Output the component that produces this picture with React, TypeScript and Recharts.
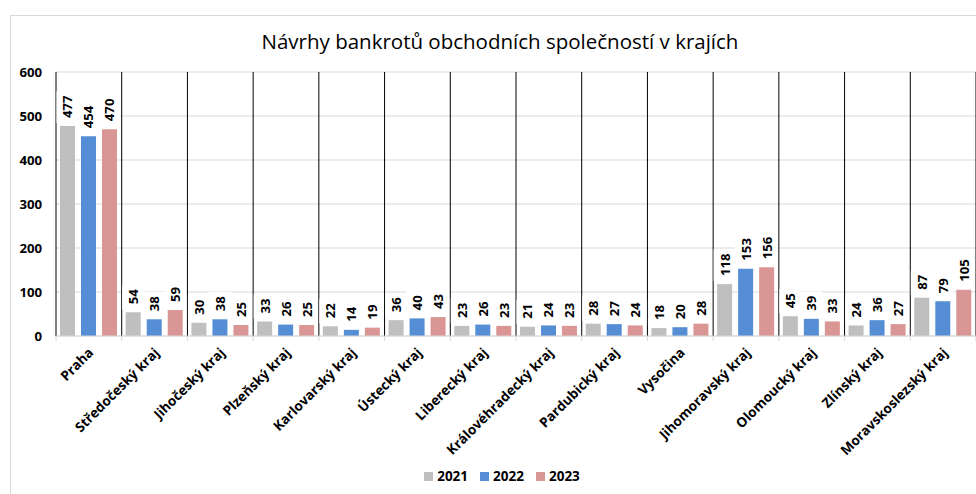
import React from "react";
import {
  BarChart,
  Bar,
  XAxis,
  YAxis,
  CartesianGrid,
  Legend,
  LabelList,
} from "recharts";

const categories = [
  "Praha",
  "Středočeský kraj",
  "Jihočeský kraj",
  "Plzeňský kraj",
  "Karlovarský kraj",
  "Ústecký kraj",
  "Liberecký kraj",
  "Královéhradecký kraj",
  "Pardubický kraj",
  "Vysočina",
  "Jihomoravský kraj",
  "Olomoucký kraj",
  "Zlínský kraj",
  "Moravskoslezský kraj",
];
const values2021 = [477, 54, 30, 33, 22, 36, 23, 21, 28, 18, 118, 45, 24, 87];
const values2022 = [454, 38, 38, 26, 14, 40, 26, 24, 27, 20, 153, 39, 36, 79];
const values2023 = [470, 59, 25, 25, 19, 43, 23, 23, 24, 28, 156, 33, 27, 105];
const yTicks = [0, 100, 200, 300, 400, 500, 600];
const seriesNames = ["2021", "2022", "2023"];
const colors = ["#bfbfbf", "#558ed5", "#d99694"];

const data = categories.map((name, i) => ({
  name,
  v2021: values2021[i],
  v2022: values2022[i],
  v2023: values2023[i],
}));

const FONT = "'Open Sans', 'DejaVu Sans', sans-serif";

const renderLabel = (props: any) => {
  const { x, y, width, value } = props;
  const cx = Number(x) + Number(width) / 2;
  const top = Number(y);
  const s = String(value);
  const len = s.length * 7.6;
  const base = top - 8;
  return (
    <g>
      <rect
        x={cx - 11}
        y={base - len - 4}
        width={22}
        height={len + 4 + 5}
        fill="#ffffff"
      />
      <text
        x={cx}
        y={base}
        transform={`rotate(-90, ${cx}, ${base})`}
        textAnchor="start"
        dominantBaseline="central"
        fontFamily={FONT}
        fontWeight={700}
        fontSize={13.2}
        fill="#000"
      >
        {s}
      </text>
    </g>
  );
};

const XTick = (props: any) => {
  const { x, y, payload, index, width } = props;
  const band = Number(width) / categories.length;
  const left = x - band / 2;
  const right = x + band / 2;
  return (
    <g>
      <line x1={left} x2={left} y1={y} y2={y + 5} stroke="#d9d9d9" />
      {index === categories.length - 1 && (
        <line x1={right} x2={right} y1={y} y2={y + 5} stroke="#d9d9d9" />
      )}
      <g transform={`translate(${x + 2}, ${y + 14})`}>
        <text
          x={0}
          y={0}
          transform="rotate(-45)"
          textAnchor="end"
          dominantBaseline="central"
          fontFamily={FONT}
          fontWeight={700}
          fontSize={13.5}
          fill="#000"
        >
          {payload.value}
        </text>
      </g>
    </g>
  );
};

const sepGenerator = (props: any) => {
  const { offset } = props;
  const w = offset.width / categories.length;
  return categories.map((_, i) => offset.left + i * w).concat([offset.left + offset.width]);
};

const LegendContent = () => (
  <div
    style={{
      height: 20,
      width: 976,
      paddingLeft: 28,
      boxSizing: "border-box",
      display: "flex",
      justifyContent: "center",
      alignItems: "center",
      fontFamily: FONT,
      fontWeight: 700,
      fontSize: 13.5,
      color: "#000",
    }}
  >
    {seriesNames.map((n, i) => (
      <div
        key={n}
        style={{ display: "flex", alignItems: "center", marginRight: i < 2 ? 12 : 0 }}
      >
        <span
          style={{
            display: "inline-block",
            width: 9,
            height: 9,
            background: colors[i],
            marginRight: 4,
          }}
        />
        <span>{n}</span>
      </div>
    ))}
  </div>
);

export default function App() {
  return (
    <div
      style={{
        position: "absolute",
        left: 0,
        top: 0,
        width: 976,
        height: 494,
        overflow: "hidden",
        background: "#ffffff",
      }}
    >
      <div
        style={{
          position: "absolute",
          left: 10,
          top: 15,
          width: 990,
          height: 500,
          border: "1px solid #d9d9d9",
        }}
      />
      <div
        style={{
          position: "absolute",
          left: 0,
          top: 27,
          width: 1000,
          textAlign: "center",
          fontFamily: FONT,
          fontSize: 20.5,
          fontWeight: 500,
          color: "#000",
          whiteSpace: "nowrap",
        }}
      >
        Návrhy bankrotů obchodních společností v krajích
      </div>
      <div style={{ position: "absolute", left: 0, top: 0 }}>
        <BarChart
          width={976}
          height={494}
          data={data}
          margin={{ top: 72, right: 0, left: 10, bottom: 8 }}
          barSize={15}
          barGap={6}
        >
          <CartesianGrid vertical={false} stroke="#d9d9d9" strokeWidth={1} />
          <CartesianGrid
            horizontal={false}
            stroke="#000000"
            strokeWidth={1}
            verticalCoordinatesGenerator={sepGenerator}
          />
          <XAxis
            dataKey="name"
            interval={0}
            height={130}
            axisLine={{ stroke: "#d9d9d9" }}
            tickLine={false}
            tickSize={0}
            tickMargin={0}
            tick={<XTick />}
          />
          <YAxis
            width={46}
            domain={[0, 600]}
            ticks={yTicks}
            axisLine={false}
            tickLine={false}
            tickSize={0}
            tickMargin={14}
            tick={{ fontFamily: FONT, fontWeight: 700, fontSize: 13.2, fill: "#000" }}
          />
          <Legend verticalAlign="bottom" content={<LegendContent />} wrapperStyle={{ left: 0, width: 976 }} />
          <Bar dataKey="v2021" name={seriesNames[0]} fill={colors[0]} isAnimationActive={false}>
            <LabelList dataKey="v2021" content={renderLabel} />
          </Bar>
          <Bar dataKey="v2022" name={seriesNames[1]} fill={colors[1]} isAnimationActive={false}>
            <LabelList dataKey="v2022" content={renderLabel} />
          </Bar>
          <Bar dataKey="v2023" name={seriesNames[2]} fill={colors[2]} isAnimationActive={false}>
            <LabelList dataKey="v2023" content={renderLabel} />
          </Bar>
        </BarChart>
      </div>
    </div>
  );
}
